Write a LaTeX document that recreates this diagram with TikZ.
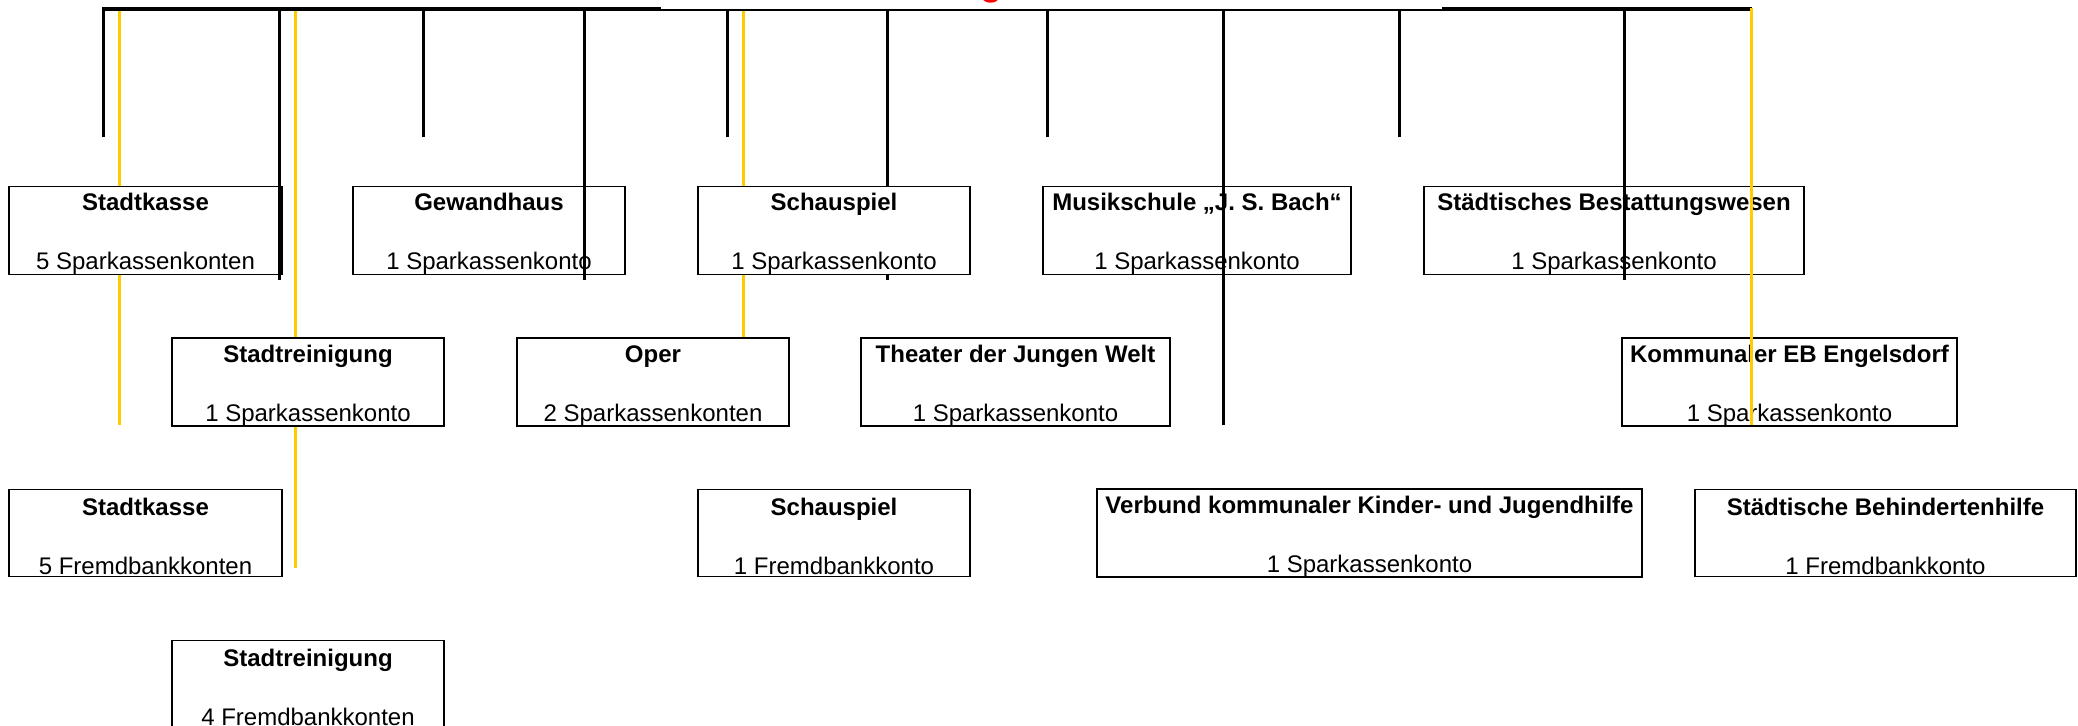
\documentclass[tikz,border=0pt]{standalone}
\usepackage{fontspec}
\setmainfont{Liberation Sans}
\definecolor{gelb}{RGB}{255,204,0}
\newcommand{\kontotext}[2]{\rule{0pt}{12pt}\textbf{#1}\\[15.1pt]#2}
\tikzset{
  konto/.style={draw, fill=white, line width=0.7pt, inner sep=0pt,
    minimum height=43.5pt, align=center,
    font=\fontsize{12pt}{14.4pt}\selectfont},
  strich/.style={line width=1.5pt},
  gelbstrich/.style={gelb, line width=1.5pt}
}
\begin{document}
\begin{tikzpicture}[x=0.5pt, y=-0.5pt]
  \useasboundingbox (0,0) rectangle (2078,725);
  \node[text=red, anchor=base, inner sep=0pt,
    font=\fontsize{18pt}{20pt}\selectfont\bfseries] (titel) at (991,-5) {g};
  \begin{scope}[gelbstrich]
    \draw (119,10) -- (119,425);
    \draw (295,10) -- (295,568);
    \draw (743,10) -- (743,337);
  \end{scope}
  \draw[strich] (887,10) -- (887,280);
  \draw[line width=1.2pt] (102,10) -- (1752,10);
  \draw[line width=1.8pt] (102,8.5) -- (661,8.5);
  \draw[line width=1.8pt] (1442,8.5) -- (1752,8.5);

  \node[konto, minimum width=136.5pt] (kasseSpk) at (145.5,230.5)
    {\kontotext{Stadtkasse}{5 Sparkassenkonten}};
  \node[konto, minimum width=136pt] (gewandhaus) at (489,230.5)
    {\kontotext{Gewandhaus}{1 Sparkassenkonto}};
  \node[konto, minimum width=136pt] (schauSpk) at (834,230.5)
    {\kontotext{Schauspiel}{1 Sparkassenkonto}};
  \node[konto, minimum width=154pt] (musikschule) at (1197,230.5)
    {\kontotext{Musikschule „J. S. Bach“}{1 Sparkassenkonto}};
  \node[konto, minimum width=190pt] (bestattung) at (1614,230.5)
    {\kontotext{Städtisches Bestattungswesen}{1 Sparkassenkonto}};

  \node[konto, minimum width=136pt] (reinigSpk) at (308,382)
    {\kontotext{Stadtreinigung}{1 Sparkassenkonto}};
  \node[konto, minimum width=136pt] (oper) at (653,382)
    {\kontotext{Oper}{2 Sparkassenkonten}};
  \node[konto, minimum width=154.5pt] (theater) at (1015.5,382)
    {\kontotext{Theater der Jungen Welt}{1 Sparkassenkonto}};
  \node[konto, minimum width=167.5pt] (engelsdorf) at (1789.5,382)
    {\kontotext{Kommunaler EB Engelsdorf}{1 Sparkassenkonto}};

  \node[konto, minimum width=136.5pt] (kasseFb) at (145.5,533)
    {\kontotext{Stadtkasse}{5 Fremdbankkonten}};
  \node[konto, minimum width=136pt] (schauFb) at (834,533)
    {\kontotext{Schauspiel}{1 Fremdbankkonto}};
  \node[konto, minimum width=272.5pt] (verbund) at (1369.5,533)
    {\kontotext{Verbund kommunaler Kinder- und Jugendhilfe}{1 Sparkassenkonto}};
  \node[konto, minimum width=190.5pt] (behinderten) at (1885.5,533)
    {\kontotext{Städtische Behindertenhilfe}{1 Fremdbankkonto}};

  \node[konto, minimum width=136pt] (reinigFb) at (308,684)
    {\kontotext{Stadtreinigung}{4 Fremdbankkonten}};

  \begin{scope}[strich]
    \draw (103,10) -- (103,137);
    \draw (279,10) -- (279,280);
    \draw (423,10) -- (423,137);
    \draw (584,10) -- (584,280);
    \draw (727,10) -- (727,137);
    \draw (1047,10) -- (1047,137);
    \draw (1223,10) -- (1223,425);
    \draw (1399,10) -- (1399,137);
    \draw (1624,10) -- (1624,280);
  \end{scope}
  \draw[gelbstrich] (1751,8) -- (1751,425);
\end{tikzpicture}
\end{document}
